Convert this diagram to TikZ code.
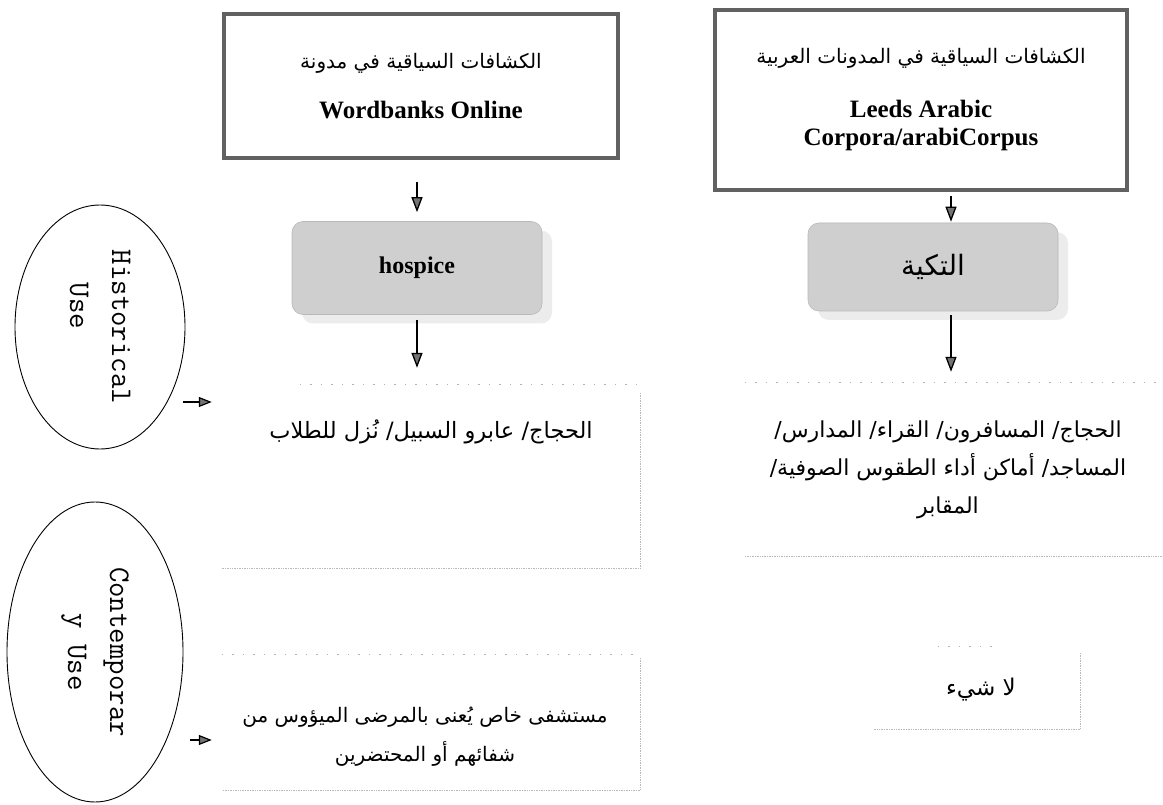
\documentclass[tikz,border=0pt]{standalone}
\usepackage{fontspec}
\setmainfont{Liberation Serif}
\newfontfamily\arabicfont[Script=Arabic]{DejaVu Sans}
\usetikzlibrary{arrows.meta,shadows,shapes.geometric}
\TeXXeTstate=1
\begin{document}
\begin{tikzpicture}[x=1pt,y=-1pt,
  titlebox/.style={draw=black!62, line width=4.5pt, fill=white, inner sep=0pt, align=center,
    font=\bfseries\fontsize{25}{28}\selectfont},
  termbox/.style={rounded corners=11pt, fill=gray!38, draw=gray!55, line width=0.6pt, inner sep=0pt,
    drop shadow={shadow xshift=10pt, shadow yshift=-9pt, fill=gray!15, opacity=1}},
  usebox/.style={ellipse, draw=black, line width=0.9pt, rotate=-90, align=center, inner sep=0pt,
    font=\ttfamily\fontsize{30}{42}\selectfont},
  areabox/.style={draw=none, inner sep=0pt},
  artext/.style={align=center, inner sep=0pt, font=\arabicfont\fontsize{22}{38}\selectfont},
  arr/.style={-{Triangle[width=11pt,length=15pt,fill=black!55]}, line width=1.3pt, draw=black},
  smallarr/.style={-{Triangle[width=10pt,length=13pt,fill=black!55]}, line width=1.2pt, draw=black},
  faint/.style={draw=gray!55, line width=0.7pt, densely dotted},
  sparse/.style={draw=gray!60, line width=0.8pt, dash pattern=on 1.5pt off 9pt},
]
\useasboundingbox[fill=white] (0,0) rectangle (1163,805);

% title boxes
\node[titlebox, minimum width=394, minimum height=144] (tl) at (421,86)
  {{\arabicfont\mdseries\fontsize{20}{20}\selectfont\beginR الكشافات السياقية في مدونة\endR}\\[22pt]
   Wordbanks Online};
\node[titlebox, minimum width=412, minimum height=180] (tr) at (921,100)
  {{\arabicfont\mdseries\fontsize{20}{20}\selectfont\beginR الكشافات السياقية في المدونات العربية\endR}\\[26pt]
   Leeds Arabic\\ Corpora/arabiCorpus};

% term boxes
\node[termbox, minimum width=250, minimum height=93] (hosp) at (417,268)
  {\bfseries\fontsize{24}{28}\selectfont hospice};
\node[termbox, minimum width=250, minimum height=88] (tak) at (933,267)
  {\arabicfont\fontsize{28}{30}\selectfont\beginR التكية\endR};

% ellipses
\node[usebox, minimum width=244, minimum height=170] (hist) at (100,327)
  {Historical\\Use\hspace*{1.4em}};
\node[usebox, minimum width=300, minimum height=176] (cont) at (95,652)
  {Contemporar\\y Use};

% area boxes
\node[areabox, minimum width=418, minimum height=183] (ml) at (431,476.5) {};
\node[areabox, minimum width=418, minimum height=173] (mr) at (954,469.5) {};
\node[areabox, minimum width=418, minimum height=135] (bl) at (431,722.5) {};
\node[areabox, minimum width=207, minimum height=82] (br) at (976.5,688) {};
\draw[sparse] ([xshift=78pt]ml.north west) -- (ml.north east);
\draw[faint] ([yshift=-8pt]ml.north east) -- (ml.south east) -- (ml.south west);
\draw[sparse] (mr.north west) -- (mr.north east);
\draw[faint] (mr.south west) -- (mr.south east);
\draw[sparse] (bl.north west) -- (bl.north east);
\draw[faint] ([yshift=-3pt]bl.north east) -- (bl.south east) -- (bl.south west);
\draw[sparse] ([xshift=65pt]br.north west) -- ([xshift=-85pt]br.north east);
\draw[faint] ([yshift=-6pt]br.north east) -- (br.south east) -- (br.south west);

% texts
\node[artext, font=\arabicfont\fontsize{22.5}{38}\selectfont] (mlt) at (431,432)
  {\beginR الحجاج/ عابرو السبيل/ نُزل للطلاب\endR};
\node[artext] (mrt) at (948,470) {\beginR الحجاج/ المسافرون/ القراء/ المدارس/\endR\\
  \beginR المساجد/ أماكن أداء الطقوس الصوفية/\endR\\ \beginR المقابر\endR};
\node[artext, font=\arabicfont\fontsize{20}{39}\selectfont] (blt) at (425,737)
  {\beginR مستشفى خاص يُعنى بالمرضى الميؤوس من\endR\\ \beginR شفائهم أو المحتضرين\endR};
\node[artext, font=\arabicfont\fontsize{23}{26}\selectfont] (brt) at (981,690) {\beginR لا شيء\endR};

% connectors
\draw[arr, shorten <=22pt, shorten >=9pt] (tl.south -| hosp.north) -- (hosp.north);
\draw[arr, shorten <=5pt, shorten >=17pt] (hosp.south) -- (hosp.south |- ml.north);
\draw[arr, shorten <=4pt, shorten >=1pt] ([xshift=18pt]tak.north |- tr.south) -- ([xshift=18pt]tak.north);
\draw[arr, shorten <=4pt, shorten >=11pt] ([xshift=18pt]tak.south) -- ([xshift=18pt]tak.south |- mr.north);
\coordinate (ha) at (183,402);
\coordinate (ca) at (190,740);
\draw[smallarr, shorten >=10pt] (ha) -- (ha -| ml.west);
\draw[smallarr, shorten >=10pt] (ca) -- (ca -| bl.west);
\end{tikzpicture}
\end{document}
